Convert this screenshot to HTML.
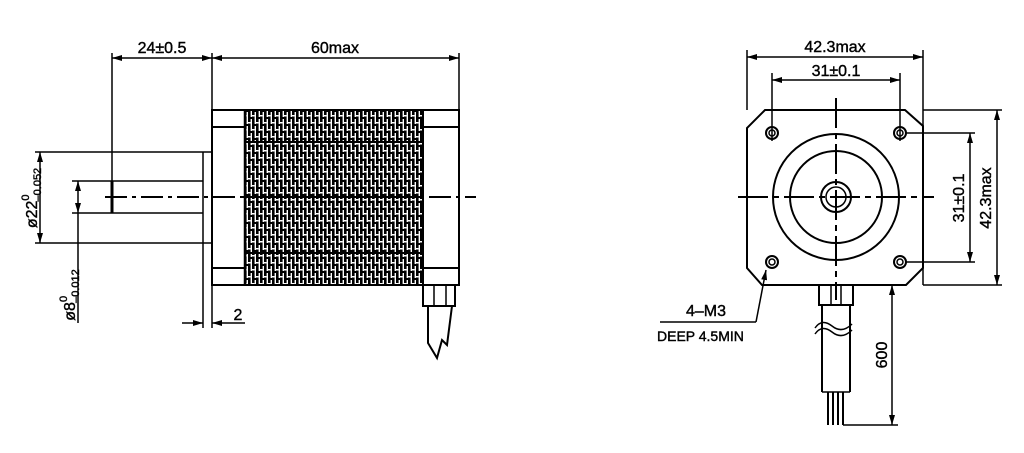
<!DOCTYPE html>
<html><head><meta charset="utf-8"><style>
body{margin:0;background:#fff;}
svg{display:block;}
text{font-family:"Liberation Sans",sans-serif;fill:#000;}
</style></head><body>
<svg width="1024" height="453" viewBox="0 0 1024 453" xmlns="http://www.w3.org/2000/svg">
<defs>
<pattern id="h" width="8" height="14" patternUnits="userSpaceOnUse">
<rect width="8" height="14" fill="#fff"/>
<rect x="0" y="0" width="2.6" height="14" fill="#000"/>
<rect x="4" y="0" width="2.6" height="14" fill="#000"/>
<rect x="2" y="5" width="2" height="2" fill="#000"/>
<rect x="6" y="12" width="2" height="2" fill="#000"/>
<rect x="4" y="3" width="2.6" height="1.5" fill="#fff"/>
<rect x="0" y="10" width="2.6" height="1.5" fill="#fff"/>
</pattern>
<marker id="a" viewBox="0 0 10 6" refX="10" refY="3" markerWidth="10" markerHeight="6" orient="auto-start-reverse" markerUnits="userSpaceOnUse"><path d="M0,0 L10,3 L0,6 Z" fill="#000"/></marker>
</defs>
<g stroke="#000" stroke-width="1.5" fill="none">
<rect x="245" y="110" width="178" height="175" fill="url(#h)" stroke-width="2"/>
<line x1="245" y1="142" x2="423" y2="142" stroke-width="2"/>
<line x1="245" y1="197" x2="423" y2="197" stroke-width="2"/>
<line x1="245" y1="253" x2="423" y2="253" stroke-width="2"/>
<rect x="212" y="110" width="247" height="175" stroke-width="2"/>
<line x1="212" y1="127" x2="245" y2="127" stroke-width="2"/>
<line x1="212" y1="268" x2="245" y2="268" stroke-width="2"/>
<line x1="423" y1="127" x2="459" y2="127" stroke-width="2"/>
<line x1="423" y1="268" x2="459" y2="268" stroke-width="2"/>
<line x1="245" y1="110" x2="245" y2="285" stroke-width="2.5"/>
<line x1="203" y1="152" x2="212" y2="152"/>
<line x1="203" y1="243" x2="212" y2="243"/>
<line x1="203" y1="152" x2="203" y2="328"/>
<line x1="212" y1="285" x2="212" y2="328"/>
<line x1="112" y1="181" x2="203" y2="181"/>
<line x1="112" y1="213" x2="203" y2="213"/>
<line x1="112" y1="181" x2="112" y2="213" stroke-width="3"/>
<line x1="105" y1="197" x2="476" y2="197" stroke-dasharray="22,5,4,5" stroke-width="2"/>
<line x1="112" y1="53" x2="112" y2="181"/>
<line x1="212" y1="53" x2="212" y2="110"/>
<line x1="459" y1="53" x2="459" y2="110"/>
<line x1="112" y1="58" x2="212" y2="58" marker-start="url(#a)" marker-end="url(#a)"/>
<line x1="212" y1="58" x2="459" y2="58" marker-start="url(#a)" marker-end="url(#a)"/>
<line x1="35" y1="152" x2="203" y2="152"/>
<line x1="35" y1="243" x2="203" y2="243"/>
<line x1="40" y1="152" x2="40" y2="243" marker-start="url(#a)" marker-end="url(#a)"/>
<line x1="72" y1="181" x2="112" y2="181"/>
<line x1="72" y1="213" x2="112" y2="213"/>
<line x1="78" y1="181" x2="78" y2="213" marker-start="url(#a)" marker-end="url(#a)"/>
<line x1="78" y1="213" x2="78" y2="323"/>
<line x1="182" y1="323" x2="203" y2="323" marker-end="url(#a)"/>
<line x1="245" y1="323" x2="212" y2="323" marker-end="url(#a)"/>
<rect x="423" y="285" width="32" height="21" stroke-width="2"/>
<line x1="434" y1="285" x2="434" y2="306"/>
<line x1="446" y1="285" x2="446" y2="306"/>
<path d="M428,306 L428,343 L437,358 L442,340 L447,345 L452,306" stroke-width="2"/>
<path d="M765,110 L905,110 L923,126 L923,268 L906,285 L762,285 L747,268 L747,128 Z" stroke-width="2"/>
<circle cx="836" cy="197" r="63" stroke-width="2"/>
<circle cx="836" cy="197" r="46" stroke-width="2"/>
<circle cx="836" cy="197" r="15" stroke-width="2"/>
<circle cx="836" cy="197" r="10"/>
<line x1="738" y1="197" x2="934" y2="197" stroke-dasharray="30,5,6,5" stroke-width="2"/>
<line x1="836" y1="98" x2="836" y2="300" stroke-dasharray="30,5,6,5" stroke-width="2"/>
<g stroke-width="2">
<circle cx="772" cy="133" r="6"/><circle cx="900" cy="133" r="6"/>
<circle cx="772" cy="262" r="6"/><circle cx="900" cy="262" r="6"/>
</g>
<circle cx="772" cy="133" r="3"/><circle cx="900" cy="133" r="3"/>
<circle cx="772" cy="262" r="3"/><circle cx="900" cy="262" r="3"/>
<line x1="747" y1="50" x2="747" y2="110"/>
<line x1="923" y1="50" x2="923" y2="285"/>
<line x1="747" y1="57" x2="923" y2="57" marker-start="url(#a)" marker-end="url(#a)"/>
<line x1="772" y1="73" x2="772" y2="141"/>
<line x1="900" y1="73" x2="900" y2="141"/>
<line x1="772" y1="80" x2="900" y2="80" marker-start="url(#a)" marker-end="url(#a)"/>
<line x1="906" y1="133" x2="975" y2="133"/>
<line x1="906" y1="262" x2="975" y2="262"/>
<line x1="970" y1="133" x2="970" y2="262" marker-start="url(#a)" marker-end="url(#a)"/>
<line x1="923" y1="110" x2="1002" y2="110"/>
<line x1="923" y1="285" x2="1002" y2="285"/>
<line x1="997" y1="110" x2="997" y2="285" marker-start="url(#a)" marker-end="url(#a)"/>
<rect x="819" y="285" width="34" height="20" stroke-width="2"/>
<line x1="831" y1="285" x2="831" y2="305"/>
<line x1="841" y1="285" x2="841" y2="305"/>
<line x1="822" y1="305" x2="822" y2="392" stroke-width="2"/>
<line x1="850" y1="305" x2="850" y2="392" stroke-width="2"/>
<line x1="822" y1="392" x2="850" y2="392"/>
<path d="M815,328 Q822,318 832,326 T852,324" />
<path d="M815,334 Q822,324 832,332 T852,330" />
<line x1="828" y1="392" x2="828" y2="425" stroke-width="2"/>
<line x1="833" y1="392" x2="833" y2="425" stroke-width="2"/>
<line x1="838" y1="392" x2="838" y2="425" stroke-width="2"/>
<line x1="843" y1="392" x2="843" y2="425" stroke-width="2"/>
<line x1="843" y1="425" x2="898" y2="425"/>
<line x1="892" y1="285" x2="892" y2="425" marker-start="url(#a)" marker-end="url(#a)"/>
<line x1="660" y1="322" x2="756" y2="322"/>
<line x1="756" y1="322" x2="766" y2="270" marker-end="url(#a)"/>
</g>
<g font-size="16" stroke="#000" stroke-width="0.4">
<text x="162" y="53" text-anchor="middle">24±0.5</text>
<text x="335" y="53" text-anchor="middle">60max</text>
<text x="238" y="320" text-anchor="middle">2</text>
<text x="835" y="52" text-anchor="middle">42.3max</text>
<text x="836" y="76" text-anchor="middle">31±0.1</text>
<text x="686" y="316">4–M3</text>
<text x="657" y="341" font-size="14">DEEP 4.5MIN</text>
<text transform="translate(964,198) rotate(-90)" text-anchor="middle">31±0.1</text>
<text transform="translate(991,198) rotate(-90)" text-anchor="middle">42.3max</text>
<text transform="translate(887,355) rotate(-90)" text-anchor="middle">600</text>
<text transform="translate(37,198) rotate(-90)" text-anchor="middle">ø22<tspan font-size="11" dy="-8">0</tspan><tspan font-size="11" dx="-7" dy="12">–0.052</tspan></text>
<text transform="translate(75,295) rotate(-90)" text-anchor="middle">ø8<tspan font-size="11" dy="-8">0</tspan><tspan font-size="11" dx="-7" dy="12">–0.012</tspan></text>
</g>
</svg>
</body></html>
